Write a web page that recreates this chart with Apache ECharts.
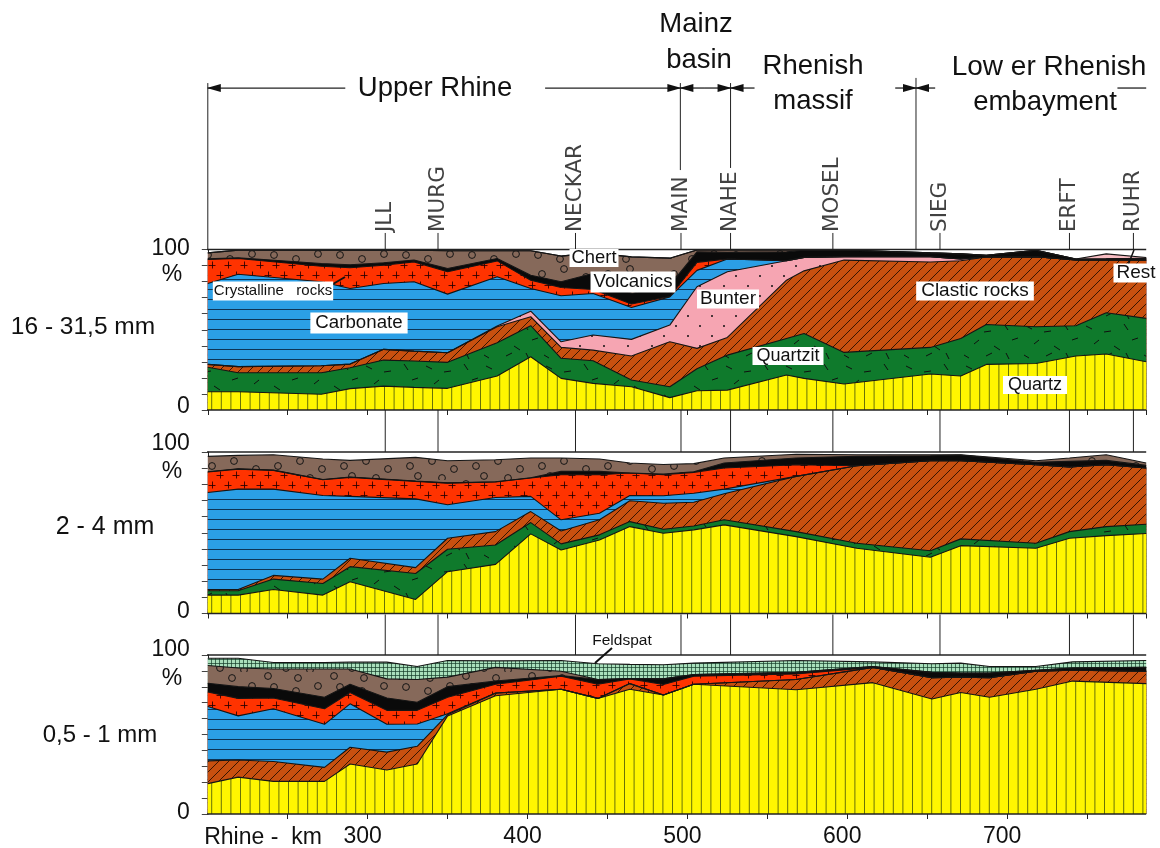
<!DOCTYPE html>
<html><head><meta charset="utf-8"><style>html,body{margin:0;padding:0;background:#fff}#c{width:1160px;height:848px}</style>
<script src="https://cdn.jsdelivr.net/npm/echarts@6/dist/echarts.min.js"></script></head>
<body><div id="c"></div>
<script>
// ---------- Panel 1: 16 - 31,5 mm (cumulative upper boundary of each layer, %) ----------
const km1=[200,219,271,289,310,329,350,381,402,421,441,465,489,506,525,562,573,598,652,671,687,718,743,762,787];
const p1Quartz=[11.4,11.4,9.8,13.3,14.9,14.1,13.5,21.2,33.2,19.7,16.6,14.5,7.7,12,12.4,21.8,19.7,16.2,22.4,21.2,28.4,29,33.6,34.9,30.1];
const p1Quartzit=[26.6,23.2,23.2,26.3,31.1,30.5,29.7,41.9,52.5,32.2,30.7,18.7,14.5,25.7,34.2,44.6,47.7,35.9,39,44.6,53.3,51.9,52.5,60.6,57.1];
const p1Clastic=[28.4,27,27.6,28.6,37.8,36.7,35.7,51.9,58.1,39,37.3,33.6,42.5,38.4,45.2,80.9,86.7,93.4,92.2,93,95.3,95.5,93.5,93.7,93.5];
const p1Bunter=[28.4,27,27.6,28.6,37.8,36.7,35.7,52.3,61.6,42.5,46.7,44,52.9,76.8,86.1,93,95.1,95.5,95.5,94.1,95.3,95.5,93.5,93.7,93.5];
const p1Carbonate=[78.8,84.6,79.9,75.7,78.8,79.9,72.2,83,75.7,71.2,72.6,63.9,70.5,87,94.1,93,95.1,95.5,95.5,94.1,95.3,95.5,93.5,93.7,93.5];
const p1Crystalline=[93.8,94.4,89.6,88.6,90.2,92.3,86.1,92.9,80.9,76.3,75.1,66,70.7,92,94.1,93,95.1,95.5,95.5,94.1,95.3,95.5,93.5,93.7,93.5];
const p1Volcanics=[94.2,94.8,91.3,90.5,91.7,93.4,88.2,94.4,84,79.9,85.1,72.6,77.8,98.5,98.2,98.5,99.5,99.7,97.9,97.3,96.4,99.5,94.1,94.2,94.5];
const p1Chert=[97.9,99.6,99.6,99.6,99.6,99.6,99.2,99.2,99.2,95.9,97.9,95.4,94.6,99.7,99.7,99.7,99.7,99.7,97.9,97.3,96.4,99.5,94.1,94.2,94.5];
const p1Rest=[97.9,99.6,99.6,99.6,99.6,99.6,99.2,99.2,99.2,95.9,97.9,95.4,94.6,99.7,99.7,99.7,99.7,99.7,97.9,97.3,96.4,99.5,94.1,97.3,95];
// ---------- Panel 2: 2 - 4 mm ----------
const km2=[200,219,241,272,289,330,350,380,402,421,445,464,485,504,523,568,606,652,671,718,739,762,787];
const p2Quartz=[11.4,11.4,14.9,11.4,19.7,8.7,25.9,30.4,49.3,39.3,45.5,53.8,49.7,51.8,54.9,47.6,40.4,34.8,42,40.4,46.6,48.2,49.5];
const p2Quartzit=[14.1,14.1,21.3,18.6,29,24.8,39.8,42.4,56.3,43.1,48.7,56.9,52.2,54.2,58,50.7,43.5,38.9,46.2,43.5,50.7,53.8,55.3];
const p2Clastic=[14.9,14.9,23.6,21.3,34.2,28.4,46.6,50.7,63.1,51.1,58,69.8,68.3,68.9,74.1,84.9,91.5,94.6,94.6,92.1,90.7,92.1,90.1];
const p2Carbonate=[74.9,77,77,73.1,72.5,71,67.3,71.8,72.5,58,62.1,73.1,72.9,74.5,77,84.9,91.5,94.6,94.6,92.1,90.7,92.1,90.1];
const p2Crystalline=[87.6,89.4,88.6,82.8,84.3,81.8,80.7,81.4,83.9,85.9,85.9,87,85.9,87.4,90.1,92.1,91.5,94.6,94.6,92.1,90.7,92.1,90.1];
const p2Volcanics=[87.8,89.6,88.8,83,84.5,82,80.9,81.6,84.1,88,88,87,86.3,87.8,93.2,96.3,97.3,97.7,98.1,93.6,94.2,94.8,91.7];
const p2Chert=[97.3,97.9,98.3,95.7,94.8,96.7,94.6,95.2,96.3,96.3,95.7,93.2,92.3,92.8,96.3,98.6,98.3,98.3,98.3,94.6,96.3,98.3,93.2];
// ---------- Panel 3: 0,5 - 1 mm ----------
const km3=[200,219,241,273,289,312,331,350,380,421,444,464,485,504,568,616,653,671,689,718,741,787];
const p3Quartz=[19.1,23.2,20.5,20.5,31.4,27.7,31.4,61.7,74.4,78.5,72.7,78.5,74.8,81.6,78.1,82.6,72.3,76.4,73.4,78.5,83.6,82];
const p3Clastic=[33.4,34,33,29.3,42,38.9,42.6,62.5,76,78.5,72.7,82,74.8,81.6,84.6,92.2,85.7,86.1,85.7,89.8,90.4,89.8];
const p3Carbonate=[67.6,61.7,66.2,56.4,69.3,56.4,56.6,63.1,76.1,78.5,72.7,82,74.8,81.6,84.6,92.2,85.7,86.1,85.7,89.8,90.4,89.8];
const p3Crystalline=[76.8,72.7,73,66.2,76.4,65.2,65.2,73.4,81.6,86.7,81.6,85,81.4,86.7,88.1,92.2,85.7,86.1,85.7,89.8,90.4,89.8];
const p3Volcanics=[82.2,80.1,78.9,73.4,81.6,73,70.3,80.1,83.6,87.1,84.6,85.2,85,87.7,89.1,92.8,89.1,88.7,88.7,90.4,91.8,92.2];
const p3Chert=[93.4,91.8,91.2,91.2,91.2,85,84.6,86.1,92.2,89.8,84.6,85.2,85,87.7,89.1,92.8,89.1,88.7,88.7,90.4,91.8,92.2];
const p3Feldspat=[98,98,95.3,95.3,95.5,95.5,92.8,96.5,96.3,96.5,94.5,94.1,93.9,94.9,96.5,95.7,94.5,94.9,92.8,92.8,95.7,96.5];
// ---------- Tributaries, regions, tick labels ----------
const riverNames=['JLL','MURG','NECKAR','MAIN','NAHE','MOSEL','SIEG','ERFT','RUHR'];
const riverKm=[311,344,430,496,527,591,658,739,779];
const regionLineKm=[200,495.6,527,643];
const regionLineTop=[203.7,203.7,203.7,206.9];
const regionLineBottom=[100,149.5,150.8,100];
const arrowFromKm=[286,411,511,511,542,630,655];
const arrowToKm=[200,495.6,495.6,527,527,643,643];
const plainBar=[[769,787]];
const regionBarY=200.6;
const kmMin=200,kmMax=787,kmStep=50;

// ---------- Texture tiles ----------
function tile(w,h,bg,draw){const c=document.createElement('canvas');c.width=w;c.height=h;const g=c.getContext('2d');g.fillStyle=bg;g.fillRect(0,0,w,h);g.strokeStyle='#101010';g.fillStyle='#101010';g.lineWidth=1;draw(g);return {image:c,repeat:'repeat'};}
function seg(g,a,b,c,d){g.beginPath();g.moveTo(a,b);g.lineTo(c,d);g.stroke();}
const texQuartz=tile(48,4,'#fff600',g=>{g.strokeStyle='rgba(40,60,10,.7)';for(let i=0;i<5;i++)seg(g,i*9.6+.5,0,i*9.6+.5,4);});
const texCarbonate=tile(4,10,'#2b9fe6',g=>{g.strokeStyle='rgba(10,40,70,.9)';seg(g,0,9.5,4,9.5);});
const texClastic=tile(10,10,'#c8500f',g=>{g.strokeStyle='rgba(30,10,0,.85)';seg(g,-1,11,11,-1);seg(g,-6,6,6,-6);seg(g,4,16,16,4);});
const texBunter=tile(24,20,'#f6a5b2',g=>{[[4,6],[16,16]].forEach(p=>{g.beginPath();g.arc(p[0],p[1],1,0,7);g.fill();});});
const texCrystalline=tile(16,20,'#ff3300',g=>{g.strokeStyle='rgba(40,0,0,.85)';[[4,5],[12,15]].forEach(p=>{seg(g,p[0]-3.5,p[1]+.5,p[0]+3.5,p[1]+.5);seg(g,p[0]+.5,p[1]-3.5,p[0]+.5,p[1]+3.5);});});
const texQuartzit=tile(60,40,'#0f7a2c',g=>{[[6,6,12,9],[24,12,31,11],[44,4,48,10],[14,24,19,20],[34,26,40,30],[52,20,58,18],[4,35,9,38],[26,36,32,33],[46,33,49,39]].forEach(s=>seg(g,s[0],s[1],s[2],s[3]));});
const texChert=tile(66,48,'#86695a',g=>{g.strokeStyle='#151515';[[10,15],[32,19],[54,14],[14,34],[36,29],[58,37],[22,44],[46,46],[4,4],[34,6]].forEach(p=>{g.beginPath();g.arc(p[0],p[1],3.4,0,7);g.stroke();});});
const texFeldspat=tile(4,4,'#a9dfbb',g=>{g.strokeStyle='rgba(20,60,40,.7)';seg(g,0,3.5,4,3.5);seg(g,3.5,0,3.5,4);});
const solidBlack='#0a0a0a';
const solidRest='#f7bcc2';

// ---------- Series helpers ----------
const series=[];
function layer(name,km,vals,color,p){series.push({type:'line',name:name,xAxisIndex:p,yAxisIndex:p,data:km.map((k,i)=>[k,vals[i]]),symbol:'none',showSymbol:false,smooth:false,lineStyle:{color:'#151515',width:1.1},areaStyle:{color:color,opacity:1,origin:'start'},silent:true,animation:false,z:2});}
function rule(pts,p,w,extra){series.push(Object.assign({type:'line',xAxisIndex:p,yAxisIndex:p,data:pts,symbol:'none',clip:false,lineStyle:{color:'#222',width:w||1},silent:true,animation:false,z:4},extra||{}));}

layer('Rest',km1,p1Rest,solidRest,0);
layer('Chert',km1,p1Chert,texChert,0);
layer('Volcanics',km1,p1Volcanics,solidBlack,0);
layer('Crystalline rocks',km1,p1Crystalline,texCrystalline,0);
layer('Carbonate',km1,p1Carbonate,texCarbonate,0);
layer('Bunter',km1,p1Bunter,texBunter,0);
layer('Clastic rocks',km1,p1Clastic,texClastic,0);
layer('Quartzit',km1,p1Quartzit,texQuartzit,0);
layer('Quartz',km1,p1Quartz,texQuartz,0);

layer('Chert',km2,p2Chert,texChert,1);
layer('Volcanics',km2,p2Volcanics,solidBlack,1);
layer('Crystalline rocks',km2,p2Crystalline,texCrystalline,1);
layer('Carbonate',km2,p2Carbonate,texCarbonate,1);
layer('Clastic rocks',km2,p2Clastic,texClastic,1);
layer('Quartzit',km2,p2Quartzit,texQuartzit,1);
layer('Quartz',km2,p2Quartz,texQuartz,1);

layer('Feldspat',km3,p3Feldspat,texFeldspat,2);
layer('Chert',km3,p3Chert,texChert,2);
layer('Volcanics',km3,p3Volcanics,solidBlack,2);
layer('Crystalline rocks',km3,p3Crystalline,texCrystalline,2);
layer('Carbonate',km3,p3Carbonate,texCarbonate,2);
layer('Clastic rocks',km3,p3Clastic,texClastic,2);
layer('Quartz',km3,p3Quartz,texQuartz,2);

// top rule of each panel, running out to the long 100 tick
[0,1,2].forEach(p=>{rule([[194.5,100],[kmMax,100]],p,1.3);rule([[194.5,0],[kmMax,0]],p,1.3);});
// tributary stubs above each panel
riverKm.forEach(k=>{rule([[k,100],[k,110.3]],0);rule([[k,100],[k,126]],1);rule([[k,100],[k,125.5]],2);});
// region boundaries
regionLineKm.forEach((k,i)=>rule([[k,regionLineBottom[i]],[k,regionLineTop[i]]],0,1));
// region arrows
arrowFromKm.forEach((from,i)=>{const to=arrowToKm[i];const left=to<from;
  rule([{value:[from,regionBarY],symbol:'none'},{value:[to,regionBarY],symbol:'triangle',symbolSize:[8,14],symbolRotate:left?90:-90,symbolOffset:[left?6:-6,0],itemStyle:{color:'#111'}}],0,1.3,{symbol:'none',showAllSymbol:true,showSymbol:true,itemStyle:{color:'#111'}});});
plainBar.forEach(b=>rule([[b[0],regionBarY],[b[1],regionBarY]],0,1.3));
// tributary names
series.push({type:'scatter',xAxisIndex:0,yAxisIndex:0,symbolSize:0,clip:false,silent:true,animation:false,z:5,
  data:riverKm.map((k,i)=>({value:[k,110.9],name:riverNames[i]})),
  label:{show:true,position:[0,0],rotate:90,align:'left',verticalAlign:'middle',formatter:p=>p.name,fontFamily:'DejaVu Sans',fontSize:21.5,color:'#111'}});

// ---------- Axes ----------
const L=207.8,W=938.4;
const panelTop=[249.5,452,655],panelH=[160.5,161.5,162.7];
const lift=[[0.5,3],[8,1.5],[5,1]];
const grids=[0,1,2].map(i=>({left:L,width:W,top:panelTop[i],height:panelH[i],containLabel:false}));
const xAxes=[0,1,2].map(i=>({gridIndex:i,type:'value',min:kmMin,max:kmMax,interval:kmStep,splitLine:{show:false},
  axisLine:{show:false},axisTick:{show:true,length:5,lineStyle:{color:'#222'}},
  axisLabel:{show:i===2,margin:11,padding:[0,10,0,0],fontFamily:'Liberation Sans',fontSize:23,color:'#111',showMinLabel:false,showMaxLabel:false,hideOverlap:false,
    formatter:v=>(v>=300&&v%100===0)?String(v):''}}));
const yAxes=[0,1,2].map(i=>({gridIndex:i,type:'value',min:0,max:100,interval:10,splitLine:{show:false},
  axisLine:{show:true,onZero:false,lineStyle:{color:'#222'}},axisTick:{show:true,length:6,lineStyle:{color:'#444'}},
  axisLabel:{margin:18,color:'#111',fontFamily:'Liberation Sans',fontSize:23,
    formatter:v=>v===100?'{a|100}':v===0?'{b|0}':'',
    rich:{a:{fontFamily:'Liberation Sans',fontSize:23,color:'#111',padding:[0,0,2*lift[i][0],0]},
          b:{fontFamily:'Liberation Sans',fontSize:23,color:'#111',padding:[0,0,2*lift[i][1],0]}}}}));

// ---------- Text ----------
const FF='"Liberation Sans"';
function T(text,x,y,size,opt){opt=opt||{};const s={text:text,x:0,y:0,font:size+'px '+FF,fill:opt.fill||'#111',align:opt.align||'center',verticalAlign:'middle'};
  if(opt.box){s.backgroundColor='#fff';s.padding=opt.box;}
  return {type:'text',x:x,y:y,z:100,silent:true,style:s};}
function Ln(a,b,c,d,w){return {type:'line',z:99,silent:true,shape:{x1:a,y1:b,x2:c,y2:d},style:{stroke:'#111',lineWidth:w||2}};}
const graphics=[
 T('Mainz',696,24,27.5),T('basin',699,60,27.5),
 T('Upper Rhine',435,88,27.5,{box:[2,8]}),
 T('Rhenish',813,66,27.5),T('massif',813,101,27.5),
 T('Low er Rhenish',1049,67,28),T('embayment',1045,102,27.5),
 T('%',172,275,23),T('%',172,472,23),T('%',172,679,23),
 T('16 - 31,5 mm',83,327,24.5),T('2 - 4 mm',105,527,25),T('0,5 - 1 mm',100,735,24),
 T('Rhine -  km',263,838,23),
 T('Chert',594,258,18.4,{box:[0,2]}),
 T('Volcanics',633,282,18.7,{box:[1,3]}),
 T('Crystalline   rocks',273,291,15,{box:[2,1]}),
 T('Carbonate',359,323,18.7,{box:[1,5]}),
 T('Bunter',728,299,19,{box:[0,3]}),
 T('Clastic rocks',975,291,19,{box:[0,5]}),
 T('Quartzit',788,356,18,{box:[0,4]}),
 T('Quartz',1035,385,18,{box:[0,5]}),
 T('Rest',1136,273,19,{box:[0,3]}),
 T('Feldspat',622,641,15.5),
 Ln(333,284,345,277),Ln(595,663,612,648),Ln(1128,265,1134,250,1.5)
];

const chart=echarts.init(document.getElementById('c'),null,{renderer:'canvas'});
chart.setOption({animation:false,backgroundColor:'#fff',grid:grids,xAxis:xAxes,yAxis:yAxes,series:series,graphic:graphics});
</script></body></html>
